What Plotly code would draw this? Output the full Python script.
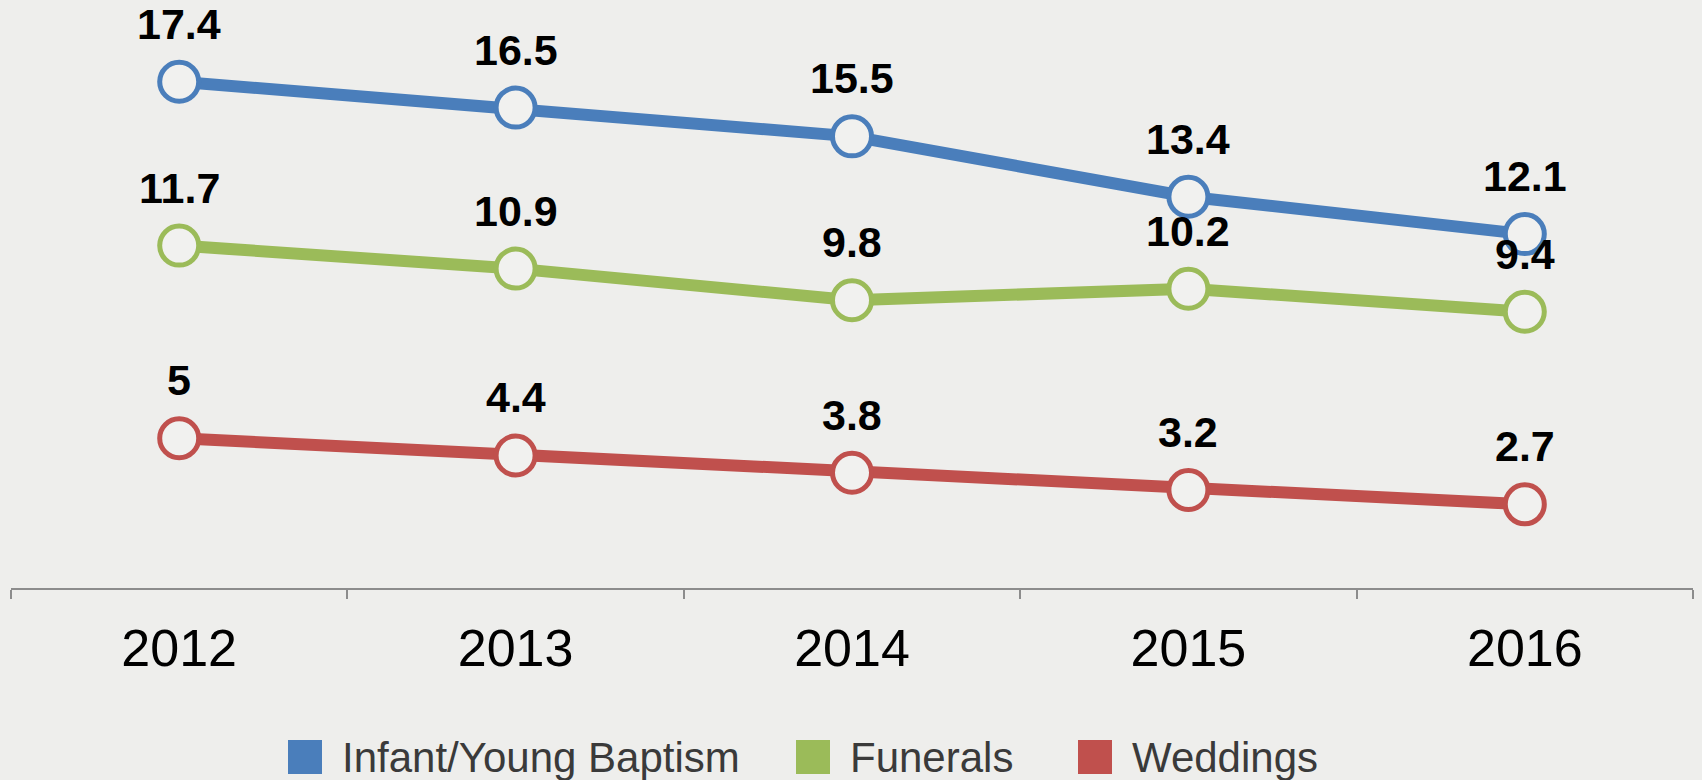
import plotly.graph_objects as go

years = ["2012", "2013", "2014", "2015", "2016"]
baptism = [17.4, 16.5, 15.5, 13.4, 12.1]
funerals = [11.7, 10.9, 9.8, 10.2, 9.4]
weddings = [5, 4.4, 3.8, 3.2, 2.7]
series_names = ["Infant/Young Baptism", "Funerals", "Weddings"]
colors = ["#4A7EBB", "#9BBB59", "#C0504D"]

BG = "#EEEEEC"
W, H = 1702, 780
ML, MR, MT, MB = 11, 9, 7, 192

fig = go.Figure()
annotations = []
for name, vals, col in zip(series_names, [baptism, funerals, weddings], colors):
    fig.add_trace(go.Scatter(
        x=years, y=vals, mode="lines+markers", name=name, showlegend=False,
        line=dict(color=col, width=12),
        marker=dict(symbol="circle", size=39, color="#F1F1EF",
                    line=dict(color=col, width=5)),
        cliponaxis=False,
    ))
    for i, v in enumerate(vals):
        annotations.append(dict(
            x=i, y=v, xref="x", yref="y", text="<b>" + f"{v:g}" + "</b>", showarrow=False,
            yanchor="bottom", xanchor="center", yshift=32,
            font=dict(family="Liberation Sans", size=43, color="#000000"),
        ))

# manual legend (large square swatches)
plot_w = W - ML - MR
plot_h = H - MT - MB
def px_x(px):
    return (px - ML) / plot_w
def px_y(py):
    return (H - MB - py) / plot_h

legend_x = [288, 796, 1078]
shapes = []
for lx, name, col in zip(legend_x, series_names, colors):
    shapes.append(dict(type="rect", xref="paper", yref="paper",
                       x0=px_x(lx), x1=px_x(lx + 34), y0=px_y(774), y1=px_y(740),
                       fillcolor=col, line=dict(width=0)))
    annotations.append(dict(
        x=px_x(lx + 52), y=px_y(757), xref="paper", yref="paper", text=name,
        showarrow=False, xanchor="left", yanchor="middle",
        font=dict(family="Liberation Sans", size=42, color="#3A3A3A"),
    ))

fig.update_layout(
    width=W, height=H,
    margin=dict(l=ML, r=MR, t=MT, b=MB),
    paper_bgcolor=BG, plot_bgcolor=BG,
    showlegend=False,
    annotations=annotations,
    shapes=shapes,
    xaxis=dict(
        type="category", range=[-0.5, 4.5], showgrid=False, zeroline=False,
        showline=True, linecolor="#8C8C8C", linewidth=2,
        ticks="outside", tickson="boundaries", ticklen=9, tickwidth=2, tickcolor="#8C8C8C",
        ticklabelstandoff=14,
        tickfont=dict(family="Liberation Sans", size=52, color="#000000"),
    ),
    yaxis=dict(range=[-0.21, 20], showgrid=False, zeroline=False, showline=False,
               showticklabels=False, ticks=""),
)

fig.write_html("out.html", config={"displayModeBar": False},
               post_script="document.body.style.margin='0';document.body.style.background='%s';" % BG)
